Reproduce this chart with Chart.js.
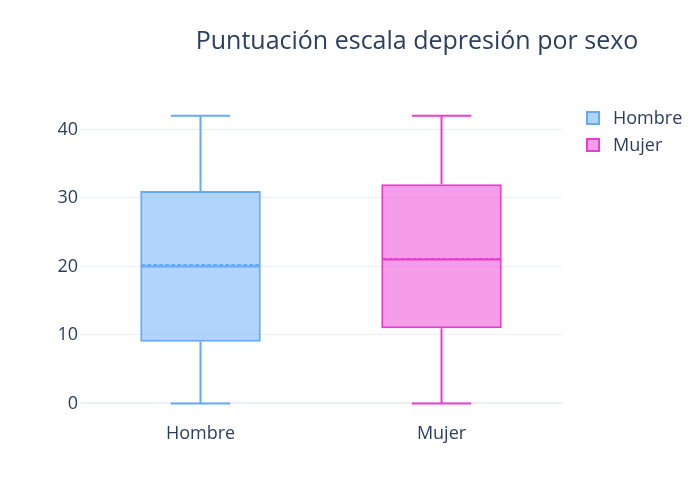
<!DOCTYPE html>
<html>
<head>
<meta charset="utf-8">
<script src="https://cdn.jsdelivr.net/npm/chart.js@4/dist/chart.umd.min.js"></script>
<style>
html,body{margin:0;padding:0;background:#fff;}
#wrap{width:700px;height:500px;position:relative;}
</style>
</head>
<body>
<div id="wrap"><canvas id="c" width="700" height="500"></canvas></div>
<script>
const categories = ['Hombre', 'Mujer'];
const minVals = [0, 0];
const q1Vals = [9, 11];
const medianVals = [20, 21];
const meanVals = [20.2, 21.1];
const q3Vals = [31, 32];
const maxVals = [42, 42];
const yTicks = [0, 10, 20, 30, 40];
const lineColors = ['rgb(100,170,250)', 'rgb(235,60,210)'];
const fillColors = ['rgba(100,170,250,0.5)', 'rgba(235,60,210,0.5)'];
const titleText = 'Puntuación escala depresión por sexo';

const FONT = '"Open Sans", sans-serif';
const TXT = '#2a3f5f';

const boxPlugin = {
  id: 'boxExtras',
  afterDatasetsDraw(chart) {
    const ctx = chart.ctx;
    const meta = chart.getDatasetMeta(0);
    const y = chart.scales.y;
    meta.data.forEach((bar, i) => {
      const cx = bar.x;
      const half = bar.width / 2 - 1;
      const capHalf = (bar.width - 2) / 4;
      ctx.save();
      ctx.strokeStyle = lineColors[i];
      ctx.lineWidth = 2;
      const yMin = y.getPixelForValue(minVals[i]);
      const yQ1 = y.getPixelForValue(q1Vals[i]);
      const yQ3 = y.getPixelForValue(q3Vals[i]);
      const yMax = y.getPixelForValue(maxVals[i]);
      ctx.beginPath();
      ctx.moveTo(cx, yQ1); ctx.lineTo(cx, yMin);
      ctx.moveTo(cx - capHalf, yMin); ctx.lineTo(cx + capHalf, yMin);
      ctx.moveTo(cx, yQ3); ctx.lineTo(cx, yMax);
      ctx.moveTo(cx - capHalf, yMax); ctx.lineTo(cx + capHalf, yMax);
      ctx.stroke();
      const yMed = y.getPixelForValue(medianVals[i]);
      ctx.beginPath();
      ctx.moveTo(cx - half, yMed); ctx.lineTo(cx + half, yMed);
      ctx.stroke();
      const yMean = y.getPixelForValue(meanVals[i]);
      ctx.setLineDash([4, 2]);
      ctx.beginPath();
      ctx.moveTo(cx - half, yMean); ctx.lineTo(cx + half, yMean);
      ctx.stroke();
      ctx.restore();
    });
  },
  afterDraw(chart) {
    const ctx = chart.ctx;
    ctx.save();
    ctx.fillStyle = TXT;
    ctx.font = '25px ' + FONT;
    ctx.textAlign = 'center';
    ctx.textBaseline = 'middle';
    ctx.fillText(titleText, 417, 42);
    ctx.font = '18px ' + FONT;
    ctx.textAlign = 'left';
    categories.forEach((name, i) => {
      const yy = 118 + i * 27;
      ctx.fillStyle = fillColors[i];
      ctx.fillRect(587, yy - 6, 12, 12);
      ctx.strokeStyle = lineColors[i];
      ctx.lineWidth = 2;
      ctx.strokeRect(587, yy - 6, 12, 12);
      ctx.fillStyle = TXT;
      ctx.fillText(name, 613, yy + 1);
    });
    ctx.restore();
  }
};

new Chart(document.getElementById('c'), {
  type: 'bar',
  data: {
    labels: categories,
    datasets: [{
      data: categories.map((c, i) => [q1Vals[i], q3Vals[i]]),
      backgroundColor: fillColors,
      borderColor: lineColors,
      borderWidth: 2,
      borderSkipped: false,
      barPercentage: 0.5,
      categoryPercentage: 1
    }]
  },
  options: {
    responsive: false,
    animation: false,
    devicePixelRatio: 1,
    layout: { padding: { left: 0, right: 138, top: 100, bottom: 0 } },
    plugins: { legend: { display: false }, title: { display: false }, tooltip: { enabled: false } },
    scales: {
      x: {
        grid: { display: false, drawTicks: false },
        border: { display: false },
        ticks: { color: TXT, font: { family: FONT, size: 18 }, padding: 3 },
        afterFit(s) { s.height = 80; }
      },
      y: {
        min: -2.41,
        max: 44.3,
        afterBuildTicks(s) { s.ticks = yTicks.map(v => ({ value: v })); },
        grid: {
          color: '#ebf0f8',
          lineWidth: ctx => (ctx.tick && ctx.tick.value === 0 ? 2 : 1),
          drawTicks: false
        },
        border: { display: false },
        ticks: { color: TXT, font: { family: FONT, size: 18 }, padding: 2 },
        afterFit(s) { s.width = 80; }
      }
    }
  },
  plugins: [boxPlugin]
});
</script>
</body>
</html>
